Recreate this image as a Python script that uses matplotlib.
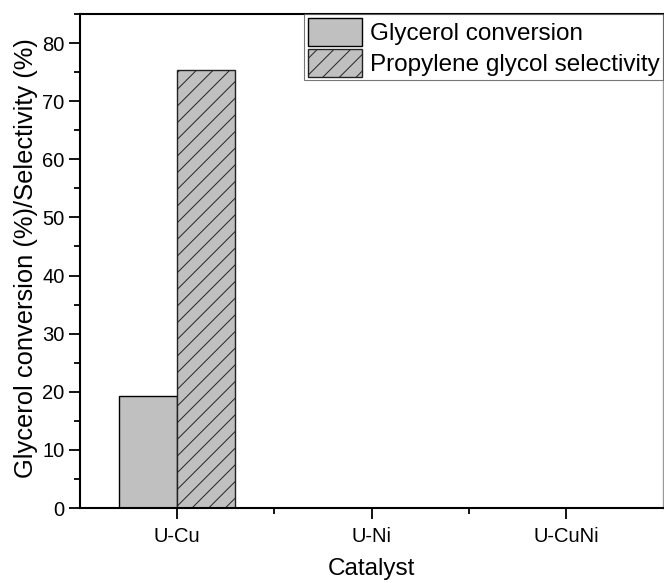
import matplotlib
matplotlib.use("Agg")
import matplotlib.pyplot as plt
import numpy as np
from matplotlib.ticker import MultipleLocator, FixedLocator

plt.rcParams['font.family'] = ['Liberation Sans', 'DejaVu Sans']
plt.rcParams['hatch.linewidth'] = 0.7
plt.rcParams['hatch.color'] = '#333333'

categories = ['U-Cu', 'U-Ni', 'U-CuNi']
conversion = [19.3, 0, 0]
selectivity = [75.4, 0, 0]
series_names = ['Glycerol conversion', 'Propylene glycol selectivity']

fig = plt.figure(figsize=(6.64, 5.83), dpi=100)
ax = fig.add_axes([80/664, 75/583, 583/664, 494/583])

x = np.arange(len(categories))
w = 0.3
ax.bar(x - w/2, conversion, width=w, color='#c0c0c0', edgecolor='black', linewidth=1.0, label=series_names[0])
ax.bar(x + w/2, selectivity, width=w, color='#c0c0c0', edgecolor='#222222', linewidth=1.0, hatch='//', label=series_names[1])

ax.set_xlim(-0.5, 2.5)
ax.set_ylim(0, 85)
ax.set_xticks(x)
ax.set_xticklabels(categories)
ax.xaxis.set_minor_locator(FixedLocator([0.5, 1.5]))
ax.yaxis.set_major_locator(MultipleLocator(10))
ax.yaxis.set_minor_locator(MultipleLocator(5))
ax.tick_params(axis='both', which='major', direction='out', length=8, width=1.3, labelsize=14.5, pad=3)
ax.tick_params(axis='both', which='minor', direction='out', length=4, width=1.3)
ax.tick_params(axis='x', which='major', pad=6)
for s in ['left', 'bottom', 'top']:
    ax.spines[s].set_linewidth(1.5)
ax.spines['right'].set_linewidth(1.0)
ax.spines['right'].set_color('#999999')

ax.set_xlabel('Catalyst', fontsize=17.5, labelpad=8)
ax.set_ylabel('Glycerol conversion (%)/Selectivity (%)', fontsize=18.4)
ax.yaxis.set_label_coords(-0.072, 0.506)

leg = ax.legend(loc='upper right', bbox_to_anchor=(1.0, 1.0), borderaxespad=0.0,
                fontsize=17.5, frameon=True, fancybox=False, edgecolor='#555555',
                handlelength=2.25, handleheight=1.4, handletextpad=0.3,
                labelspacing=0.12, borderpad=0.15)
leg.get_frame().set_linewidth(0.8)

fig.savefig('out.png', dpi=100)
